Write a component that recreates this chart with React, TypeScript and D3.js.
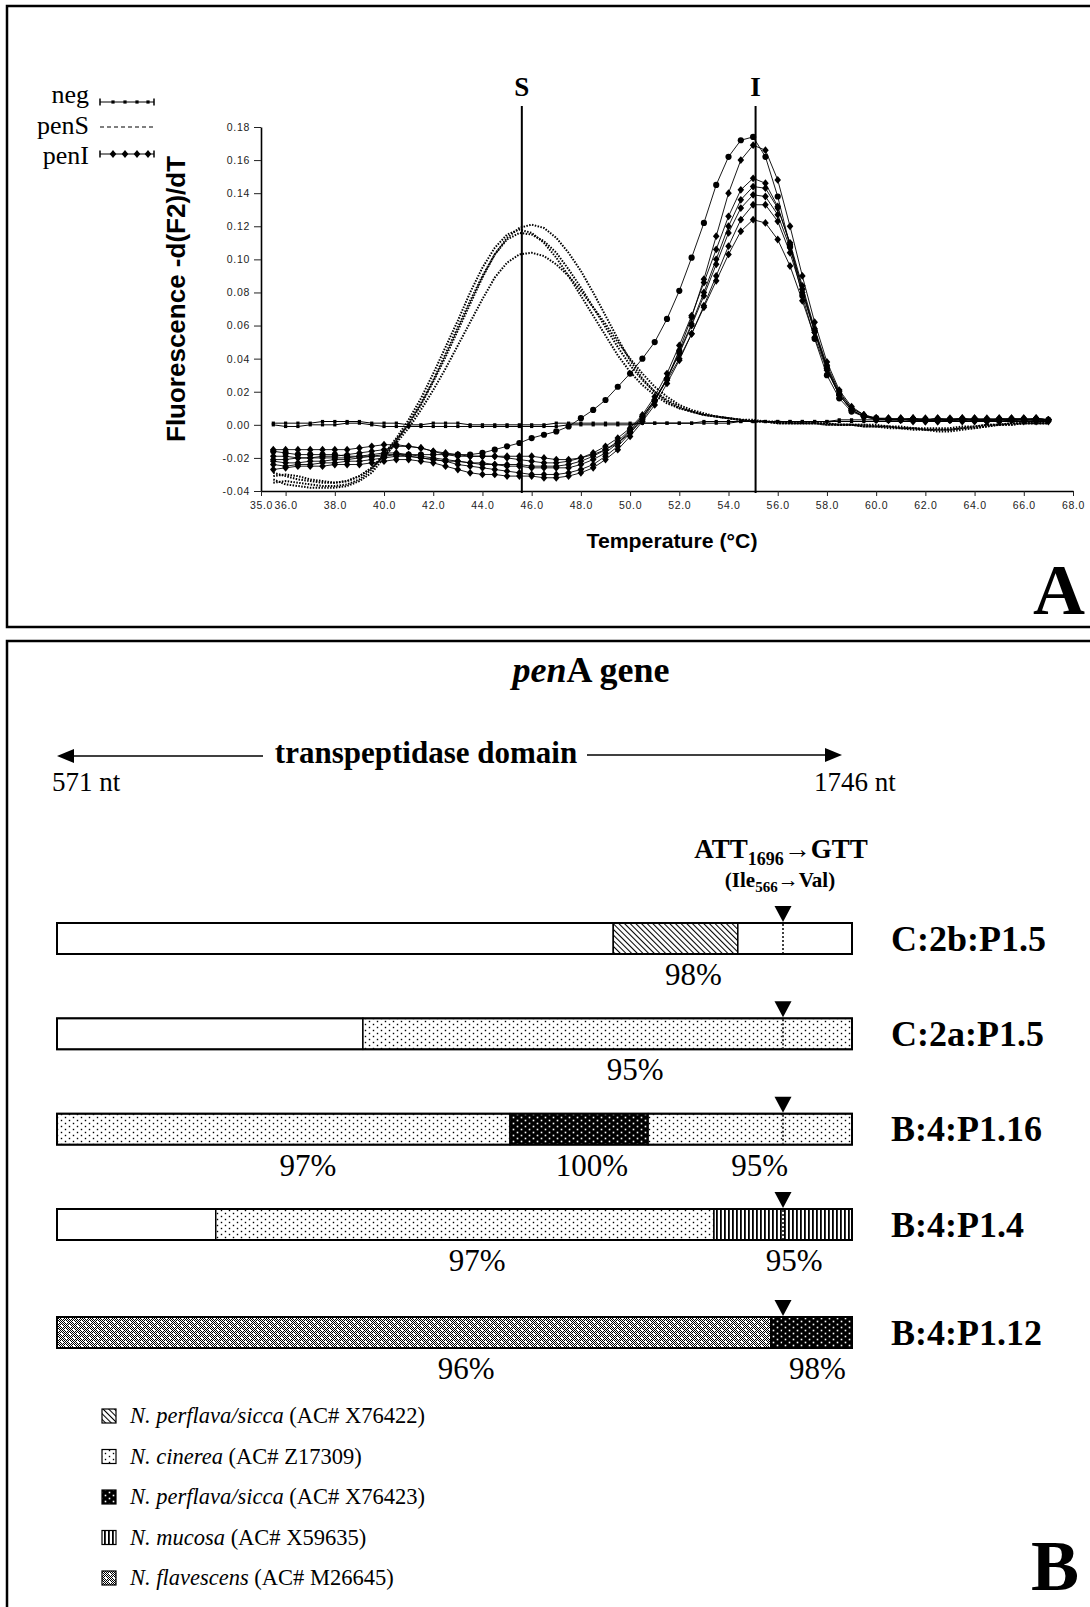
import React, { useRef, useEffect } from 'react';
import * as d3 from 'd3';

// ---------- panel A : melting curves ----------
const temps = [
  35.5, 36.0, 36.5, 37.0, 37.5, 38.0, 38.5, 39.0,
  39.5, 40.0, 40.5, 41.0, 41.5, 42.0, 42.5, 43.0,
  43.5, 44.0, 44.5, 45.0, 45.5, 46.0, 46.5, 47.0,
  47.5, 48.0, 48.5, 49.0, 49.5, 50.0, 50.5, 51.0,
  51.5, 52.0, 52.5, 53.0, 53.5, 54.0, 54.5, 55.0,
  55.5, 56.0, 56.5, 57.0, 57.5, 58.0, 58.5, 59.0,
  59.5, 60.0, 60.5, 61.0, 61.5, 62.0, 62.5, 63.0,
  63.5, 64.0, 64.5, 65.0, 65.5, 66.0, 66.5, 67.0,
];

const negCurves = [
  [0.001, 0.001, 0.001, 0.001, 0.002, 0.002, 0.002, 0.002,
   0.001, 0.001, 0.001, 0.000, 0.000, 0.001, 0.001, 0.001,
   0.000, 0.000, 0.000, 0.000, 0.000, 0.000, 0.000, 0.001,
   0.001, 0.001, 0.001, 0.001, 0.001, 0.001, 0.001, 0.001,
   0.001, 0.001, 0.001, 0.002, 0.002, 0.002, 0.002, 0.002,
   0.002, 0.002, 0.002, 0.002, 0.002, 0.002, 0.002, 0.002,
   0.002, 0.002, 0.002, 0.002, 0.002, 0.002, 0.002, 0.002,
   0.002, 0.002, 0.002, 0.002, 0.002, 0.002, 0.002, 0.002],
  [0.000, -0.001, -0.001, 0.000, 0.000, 0.000, 0.001, 0.001,
   0.000, -0.001, -0.001, -0.001, -0.001, -0.001, -0.001, -0.001,
   -0.001, -0.001, -0.001, -0.001, -0.001, -0.001, -0.001, -0.001,
   0.000, 0.000, 0.000, 0.000, 0.000, 0.000, 0.001, 0.001,
   0.001, 0.001, 0.001, 0.001, 0.001, 0.001, 0.002, 0.002,
   0.002, 0.002, 0.002, 0.002, 0.002, 0.002, 0.003, 0.003,
   0.003, 0.003, 0.003, 0.003, 0.003, 0.003, 0.003, 0.003,
   0.003, 0.003, 0.003, 0.003, 0.003, 0.003, 0.003, 0.003],
];

const penSCurves = [
  [-0.031, -0.030, -0.031, -0.033, -0.034, -0.035, -0.034, -0.031,
   -0.026, -0.018, -0.009, 0.000, 0.012, 0.026, 0.041, 0.057,
   0.073, 0.089, 0.103, 0.113, 0.119, 0.121, 0.119, 0.113,
   0.104, 0.093, 0.080, 0.066, 0.052, 0.039, 0.028, 0.020,
   0.014, 0.010, 0.008, 0.006, 0.005, 0.004, 0.003, 0.002,
   0.002, 0.001, 0.001, 0.001, 0.001, 0.000, 0.000, 0.000,
   -0.001, -0.001, -0.001, -0.002, -0.002, -0.003, -0.003, -0.003,
   -0.002, -0.001, 0.000, 0.000, 0.001, 0.001, 0.001, 0.001],
  [-0.035, -0.034, -0.035, -0.036, -0.037, -0.037, -0.036, -0.033,
   -0.027, -0.018, -0.008, 0.003, 0.016, 0.031, 0.047, 0.063,
   0.080, 0.095, 0.107, 0.115, 0.118, 0.116, 0.110, 0.101,
   0.090, 0.078, 0.066, 0.054, 0.042, 0.032, 0.024, 0.018,
   0.013, 0.010, 0.008, 0.006, 0.005, 0.004, 0.003, 0.002,
   0.002, 0.001, 0.001, 0.001, 0.001, 0.001, 0.000, 0.000,
   0.000, 0.000, -0.001, -0.001, -0.002, -0.002, -0.002, -0.002,
   -0.001, -0.001, 0.000, 0.000, 0.001, 0.001, 0.001, 0.001],
  [-0.033, -0.036, -0.037, -0.038, -0.038, -0.038, -0.037, -0.034,
   -0.029, -0.020, -0.010, 0.001, 0.013, 0.027, 0.043, 0.059,
   0.075, 0.090, 0.103, 0.112, 0.116, 0.115, 0.111, 0.104,
   0.094, 0.083, 0.071, 0.059, 0.047, 0.036, 0.027, 0.020,
   0.015, 0.011, 0.008, 0.006, 0.005, 0.004, 0.003, 0.003,
   0.002, 0.002, 0.001, 0.001, 0.001, 0.001, 0.000, 0.000,
   0.000, -0.001, -0.001, -0.002, -0.002, -0.003, -0.003, -0.003,
   -0.002, -0.002, -0.001, 0.000, 0.000, 0.001, 0.001, 0.001],
  [-0.029, -0.031, -0.033, -0.034, -0.035, -0.035, -0.034, -0.031,
   -0.026, -0.019, -0.011, -0.002, 0.009, 0.021, 0.034, 0.048,
   0.062, 0.076, 0.089, 0.098, 0.103, 0.104, 0.102, 0.097,
   0.090, 0.081, 0.071, 0.061, 0.050, 0.040, 0.031, 0.023,
   0.017, 0.012, 0.009, 0.007, 0.005, 0.004, 0.003, 0.002,
   0.002, 0.001, 0.001, 0.001, 0.001, 0.000, 0.000, 0.000,
   -0.001, -0.001, -0.002, -0.002, -0.003, -0.003, -0.004, -0.004,
   -0.003, -0.002, -0.001, 0.000, 0.000, 0.001, 0.001, 0.001],
];

// the early rising penI sample (round markers)
const penIRound = [
  -0.016, -0.017, -0.018, -0.018, -0.018, -0.018, -0.019, -0.019,
  -0.019, -0.019, -0.018, -0.018, -0.018, -0.018, -0.018, -0.018,
  -0.018, -0.017, -0.015, -0.013, -0.011, -0.008, -0.006, -0.004,
  -0.001, 0.004, 0.009, 0.015, 0.023, 0.031, 0.040, 0.050,
  0.064, 0.081, 0.101, 0.122, 0.145, 0.162, 0.172, 0.174,
  0.162, 0.138, 0.108, 0.078, 0.052, 0.030, 0.016, 0.008,
  0.005, 0.004, 0.003, 0.003, 0.003, 0.003, 0.003, 0.003,
  0.003, 0.003, 0.003, 0.003, 0.003, 0.003, 0.003, 0.003,
];

const penICurves = [
  [-0.021, -0.021, -0.020, -0.020, -0.019, -0.019, -0.018, -0.017,
   -0.016, -0.015, -0.013, -0.013, -0.014, -0.016, -0.018, -0.019,
   -0.019, -0.019, -0.019, -0.019, -0.019, -0.019, -0.020, -0.021,
   -0.021, -0.020, -0.018, -0.015, -0.011, -0.005, 0.003, 0.014,
   0.028, 0.045, 0.065, 0.088, 0.114, 0.140, 0.160, 0.169,
   0.166, 0.148, 0.120, 0.090, 0.062, 0.038, 0.021, 0.011,
   0.006, 0.004, 0.004, 0.003, 0.004, 0.003, 0.004, 0.003,
   0.004, 0.003, 0.004, 0.003, 0.004, 0.003, 0.004, 0.003],
  [-0.015, -0.015, -0.015, -0.015, -0.015, -0.015, -0.015, -0.014,
   -0.013, -0.012, -0.012, -0.013, -0.014, -0.016, -0.017, -0.018,
   -0.019, -0.019, -0.019, -0.020, -0.021, -0.022, -0.023, -0.023,
   -0.022, -0.020, -0.017, -0.013, -0.008, -0.002, 0.006, 0.017,
   0.031, 0.048, 0.066, 0.086, 0.106, 0.126, 0.142, 0.149,
   0.146, 0.132, 0.109, 0.082, 0.056, 0.034, 0.018, 0.009,
   0.005, 0.004, 0.003, 0.004, 0.002, 0.003, 0.004, 0.003,
   0.002, 0.004, 0.003, 0.002, 0.003, 0.004, 0.002, 0.003],
  [-0.024, -0.025, -0.024, -0.024, -0.023, -0.023, -0.022, -0.022,
   -0.021, -0.020, -0.019, -0.019, -0.020, -0.021, -0.022, -0.024,
   -0.025, -0.026, -0.027, -0.028, -0.029, -0.030, -0.030, -0.030,
   -0.029, -0.027, -0.024, -0.019, -0.013, -0.005, 0.004, 0.015,
   0.028, 0.044, 0.061, 0.080, 0.100, 0.120, 0.136, 0.144,
   0.143, 0.131, 0.110, 0.084, 0.058, 0.036, 0.020, 0.010,
   0.006, 0.004, 0.003, 0.003, 0.004, 0.002, 0.003, 0.003,
   0.004, 0.002, 0.003, 0.004, 0.003, 0.002, 0.004, 0.003],
  [-0.019, -0.019, -0.020, -0.020, -0.020, -0.020, -0.020, -0.019,
   -0.018, -0.017, -0.017, -0.018, -0.019, -0.020, -0.021, -0.022,
   -0.023, -0.024, -0.024, -0.025, -0.025, -0.026, -0.026, -0.026,
   -0.026, -0.024, -0.021, -0.017, -0.011, -0.004, 0.005, 0.015,
   0.028, 0.043, 0.060, 0.078, 0.097, 0.116, 0.131, 0.139,
   0.138, 0.127, 0.107, 0.082, 0.057, 0.035, 0.019, 0.010,
   0.006, 0.003, 0.004, 0.003, 0.003, 0.004, 0.002, 0.003,
   0.003, 0.004, 0.002, 0.003, 0.004, 0.003, 0.003, 0.002],
  [-0.027, -0.026, -0.025, -0.025, -0.025, -0.024, -0.024, -0.024,
   -0.023, -0.022, -0.021, -0.021, -0.022, -0.023, -0.025, -0.027,
   -0.029, -0.030, -0.030, -0.031, -0.031, -0.031, -0.032, -0.032,
   -0.031, -0.029, -0.026, -0.021, -0.015, -0.007, 0.002, 0.012,
   0.025, 0.039, 0.055, 0.072, 0.090, 0.108, 0.124, 0.133,
   0.133, 0.123, 0.104, 0.080, 0.056, 0.034, 0.018, 0.009,
   0.005, 0.003, 0.003, 0.004, 0.003, 0.002, 0.003, 0.004,
   0.003, 0.003, 0.002, 0.004, 0.003, 0.003, 0.004, 0.003],
  [-0.022, -0.023, -0.023, -0.022, -0.022, -0.021, -0.021, -0.020,
   -0.019, -0.018, -0.018, -0.019, -0.020, -0.021, -0.022, -0.022,
   -0.023, -0.023, -0.024, -0.024, -0.024, -0.025, -0.025, -0.025,
   -0.024, -0.022, -0.019, -0.015, -0.010, -0.003, 0.005, 0.015,
   0.027, 0.040, 0.055, 0.071, 0.087, 0.103, 0.117, 0.124,
   0.122, 0.112, 0.096, 0.075, 0.053, 0.033, 0.018, 0.009,
   0.005, 0.004, 0.003, 0.003, 0.004, 0.003, 0.002, 0.003,
   0.004, 0.003, 0.003, 0.002, 0.003, 0.004, 0.003, 0.003],
];

const yTicks = [-0.04, -0.02, 0, 0.02, 0.04, 0.06, 0.08, 0.1, 0.12, 0.14, 0.16, 0.18];
const xTicks = [35, 36, 38, 40, 42, 44, 46, 48, 50, 52, 54, 56, 58, 60, 62, 64, 66, 68];
const peakLabels = ['S', 'I'];
const peakTemps = [45.6, 55.1];
const legendA = ['neg', 'penS', 'penI'];

// ---------- panel B : penA mosaic ----------
const mutationNt = 1696;
const strains = ['C:2b:P1.5', 'C:2a:P1.5', 'B:4:P1.16', 'B:4:P1.4', 'B:4:P1.12'];
const segments = [
  [{ from: 571, to: 1433, donor: '' }, { from: 1433, to: 1626, donor: 'X76422' }, { from: 1626, to: 1746, donor: '' }],
  [{ from: 571, to: 1045, donor: '' }, { from: 1045, to: 1746, donor: 'Z17309' }],
  [{ from: 571, to: 1273, donor: 'Z17309' }, { from: 1273, to: 1487, donor: 'X76423' }, { from: 1487, to: 1746, donor: 'Z17309' }],
  [{ from: 571, to: 817, donor: '' }, { from: 817, to: 1589, donor: 'Z17309' }, { from: 1589, to: 1746, donor: 'X59635' }],
  [{ from: 571, to: 1677, donor: 'M26645' }, { from: 1677, to: 1746, donor: 'X76423' }],
];
const identities = [
  [{ at: 1557, text: '98%' }],
  [{ at: 1467, text: '95%' }],
  [{ at: 960, text: '97%' }, { at: 1400, text: '100%' }, { at: 1660, text: '95%' }],
  [{ at: 1222, text: '97%' }, { at: 1704, text: '95%' }],
  [{ at: 1205, text: '96%' }, { at: 1721, text: '98%' }],
];
const donorAcc = ['X76422', 'Z17309', 'X76423', 'X59635', 'M26645'];
const donorSpecies = ['N. perflava/sicca', 'N. cinerea', 'N. perflava/sicca', 'N. mucosa', 'N. flavescens'];

const SERIF = 'Liberation Serif, Times New Roman, serif';
const SANS = 'Liberation Sans, Arial, sans-serif';

const App = () => {
  const ref = useRef<SVGSVGElement>(null);

  useEffect(() => {
    const svg = d3.select(ref.current);
    svg.selectAll('*').remove();

    // patterns
    const defs = svg.append('defs');
    const hatch = defs.append('pattern').attr('id', 'pat-X76422').attr('patternUnits', 'userSpaceOnUse')
      .attr('width', 4).attr('height', 4).attr('patternTransform', 'rotate(-45)');
    hatch.append('rect').attr('width', 4).attr('height', 4).attr('fill', '#fff');
    hatch.append('line').attr('x1', 0.5).attr('y1', 0).attr('x2', 0.5).attr('y2', 4).attr('stroke', '#000').attr('stroke-width', 1.1);

    const cin = defs.append('pattern').attr('id', 'pat-Z17309').attr('patternUnits', 'userSpaceOnUse')
      .attr('width', 8).attr('height', 6);
    cin.append('rect').attr('width', 8).attr('height', 6).attr('fill', '#fff');
    [[1.5, 1.5], [5.5, 4.5]].forEach(([cx, cy]) => cin.append('rect').attr('x', cx - 0.7).attr('y', cy - 0.7).attr('width', 1.4).attr('height', 1.4).attr('fill', '#000'));

    const blk = defs.append('pattern').attr('id', 'pat-X76423').attr('patternUnits', 'userSpaceOnUse')
      .attr('width', 8).attr('height', 6);
    blk.append('rect').attr('width', 8).attr('height', 6).attr('fill', '#000');
    [[1.5, 1.5], [5.5, 4.5]].forEach(([cx, cy]) => blk.append('rect').attr('x', cx - 0.8).attr('y', cy - 0.8).attr('width', 1.6).attr('height', 1.6).attr('fill', '#fff'));

    const stripes = defs.append('pattern').attr('id', 'pat-X59635').attr('patternUnits', 'userSpaceOnUse')
      .attr('width', 4).attr('height', 4);
    stripes.append('rect').attr('width', 4).attr('height', 4).attr('fill', '#fff');
    stripes.append('rect').attr('x', 0).attr('width', 1.8).attr('height', 4).attr('fill', '#000');

    const checker = defs.append('pattern').attr('id', 'pat-M26645').attr('patternUnits', 'userSpaceOnUse')
      .attr('width', 8).attr('height', 8);
    checker.append('rect').attr('width', 8).attr('height', 8).attr('fill', '#fff');
    d3.range(8).forEach(r => d3.range(8).forEach(c => {
      if ((r + c) % 2 === 0) checker.append('rect').attr('x', c).attr('y', r).attr('width', 1).attr('height', 1).attr('fill', '#000');
    }));
    checker.append('rect').attr('x', 1).attr('y', 1).attr('width', 2).attr('height', 2).attr('fill', '#fff');
    checker.append('rect').attr('x', 5).attr('y', 5).attr('width', 2).attr('height', 2).attr('fill', '#fff');

    // frames
    svg.append('rect').attr('x', 7).attr('y', 6).attr('width', 1100).attr('height', 621)
      .attr('fill', 'none').attr('stroke', '#000').attr('stroke-width', 2.5);
    svg.append('rect').attr('x', 7).attr('y', 641).attr('width', 1100).attr('height', 1000)
      .attr('fill', 'none').attr('stroke', '#000').attr('stroke-width', 2.5);

    // ===== panel A =====
    const x = d3.scaleLinear().domain([35, 68]).range([261, 1073]);
    const y = d3.scaleLinear().domain([-0.04, 0.18]).range([491, 127]);
    const line = d3.line<number>().x((_, i) => x(temps[i])).y(d => y(d));
    const gA = svg.append('g');

    const yAxis = gA.append('g').attr('transform', `translate(${x(35)},0)`)
      .call(d3.axisLeft(y).tickValues(yTicks).tickFormat(d => (+d).toFixed(2)).tickSize(7).tickPadding(4).tickSizeOuter(0));
    const xAxis = gA.append('g').attr('transform', `translate(0,${y(-0.04)})`)
      .call(d3.axisBottom(x).tickValues(xTicks).tickFormat(d => (+d).toFixed(1)).tickSize(5).tickPadding(6).tickSizeOuter(0));
    [yAxis, xAxis].forEach(a => {
      a.select('.domain').attr('stroke', '#000').attr('stroke-width', 1.6);
      a.selectAll('.tick line').attr('stroke', '#222').attr('stroke-width', 1);
      a.selectAll('.tick text').attr('font-family', SANS).attr('font-size', 10.5)
        .attr('letter-spacing', 0.7).attr('fill', '#222');
    });

    gA.append('text').attr('transform', 'translate(185,442) rotate(-90)')
      .attr('text-anchor', 'start').attr('font-family', SANS).attr('font-weight', 'bold')
      .attr('font-size', 26).text('Fluorescence -d(F2)/dT');
    gA.append('text').attr('x', 672).attr('y', 548)
      .attr('text-anchor', 'middle').attr('font-family', SANS).attr('font-weight', 'bold')
      .attr('font-size', 21).attr('textLength', 171).attr('lengthAdjust', 'spacingAndGlyphs')
      .text('Temperature (°C)');

    // curves
    const curves = gA.append('g');
    penSCurves.forEach(c => {
      curves.append('path').attr('d', line(c)).attr('fill', 'none')
        .attr('stroke', '#000').attr('stroke-width', 2).attr('stroke-dasharray', '1.5,1.4');
    });
    negCurves.forEach(c => {
      curves.append('path').attr('d', line(c)).attr('fill', 'none').attr('stroke', '#000').attr('stroke-width', 1);
      curves.selectAll(null).data(c).join('rect')
        .attr('x', (_, i) => x(temps[i]) - 1.6).attr('y', d => y(d) - 1.6)
        .attr('width', 3.2).attr('height', 3.2).attr('fill', '#000');
    });
    const diamond = 'M0,-3.9L3.3,0L0,3.9L-3.3,0Z';
    penICurves.forEach(c => {
      curves.append('path').attr('d', line(c)).attr('fill', 'none').attr('stroke', '#000').attr('stroke-width', 0.9);
      curves.selectAll(null).data(c).join('path').attr('d', diamond)
        .attr('transform', (d, i) => `translate(${x(temps[i])},${y(d)})`).attr('fill', '#000');
    });
    curves.append('path').attr('d', line(penIRound)).attr('fill', 'none').attr('stroke', '#000').attr('stroke-width', 0.9);
    curves.selectAll(null).data(penIRound).join('circle')
      .attr('cx', (_, i) => x(temps[i])).attr('cy', d => y(d)).attr('r', 3.1).attr('fill', '#000');

    // S / I guide lines
    peakTemps.forEach((t, i) => {
      gA.append('line').attr('x1', x(t)).attr('x2', x(t)).attr('y1', 106).attr('y2', y(-0.04) + 2)
        .attr('stroke', '#000').attr('stroke-width', 2);
      gA.append('text').attr('x', x(t)).attr('y', 96).attr('text-anchor', 'middle')
        .attr('font-family', SERIF).attr('font-weight', 'bold').attr('font-size', 27).text(peakLabels[i]);
    });

    // legend A
    const legRows = [103, 134, 164];
    const legLines = [102, 127, 154];
    legendA.forEach((name, i) => {
      gA.append('text').attr('x', 89).attr('y', legRows[i]).attr('text-anchor', 'end')
        .attr('font-family', SERIF).attr('font-size', 26).text(name);
      const ly = legLines[i];
      if (name === 'penS') {
        gA.append('line').attr('x1', 100).attr('x2', 154).attr('y1', ly).attr('y2', ly)
          .attr('stroke', '#000').attr('stroke-width', 1.2).attr('stroke-dasharray', '4,3');
        return;
      }
      gA.append('line').attr('x1', 100).attr('x2', 154).attr('y1', ly).attr('y2', ly).attr('stroke', '#000').attr('stroke-width', 1.2);
      [100, 154].forEach(ex => gA.append('line').attr('x1', ex).attr('x2', ex).attr('y1', ly - 3.5).attr('y2', ly + 3.5)
        .attr('stroke', '#000').attr('stroke-width', 1.5));
      [113, 125, 137, 148].forEach(mx => {
        if (name === 'neg') {
          gA.append('rect').attr('x', mx - 1.6).attr('y', ly - 1.6).attr('width', 3.2).attr('height', 3.2).attr('fill', '#000');
        } else {
          gA.append('path').attr('d', diamond).attr('transform', `translate(${mx},${ly})`).attr('fill', '#000');
        }
      });
    });

    gA.append('text').attr('x', 1033).attr('y', 614).attr('font-family', SERIF)
      .attr('font-weight', 'bold').attr('font-size', 72).text('A');

    // ===== panel B =====
    const gB = svg.append('g');
    const nt = d3.scaleLinear().domain([571, mutationNt, 1746]).range([57, 783, 852]);
    const rowTop = d3.scaleLinear().domain([0, 3, 4]).range([923, 1209, 1317]);
    const barH = 31;

    const title = gB.append('text').attr('x', 591).attr('y', 682).attr('text-anchor', 'middle')
      .attr('font-family', SERIF).attr('font-weight', 'bold').attr('font-size', 36);
    title.append('tspan').attr('font-style', 'italic').text('pen');
    title.append('tspan').text('A gene');

    // transpeptidase domain arrow
    gB.append('line').attr('x1', 70).attr('x2', 263).attr('y1', 756).attr('y2', 756).attr('stroke', '#000').attr('stroke-width', 1.5);
    gB.append('path').attr('d', 'M57,756L74,749L74,763Z').attr('fill', '#000');
    gB.append('line').attr('x1', 587).attr('x2', 830).attr('y1', 755).attr('y2', 755).attr('stroke', '#000').attr('stroke-width', 1.5);
    gB.append('path').attr('d', 'M842,755L825,748L825,762Z').attr('fill', '#000');
    gB.append('text').attr('x', 426).attr('y', 763).attr('text-anchor', 'middle')
      .attr('font-family', SERIF).attr('font-weight', 'bold').attr('font-size', 31).text('transpeptidase domain');
    gB.append('text').attr('x', 52).attr('y', 791).attr('font-family', SERIF).attr('font-size', 27).text('571 nt');
    gB.append('text').attr('x', 814).attr('y', 791).attr('font-family', SERIF).attr('font-size', 27).text('1746 nt');

    // mutation annotation
    const mx = nt(mutationNt);
    const mut = gB.append('text').attr('x', mx - 2).attr('y', 858).attr('text-anchor', 'middle')
      .attr('font-family', SERIF).attr('font-weight', 'bold').attr('font-size', 27);
    mut.append('tspan').text('ATT');
    mut.append('tspan').attr('font-size', 18).attr('dy', 7).text('1696');
    mut.append('tspan').attr('dy', -7).text('→GTT');
    const aa = gB.append('text').attr('x', mx - 3).attr('y', 887).attr('text-anchor', 'middle')
      .attr('font-family', SERIF).attr('font-weight', 'bold').attr('font-size', 21);
    aa.append('tspan').text('(Ile');
    aa.append('tspan').attr('font-size', 15).attr('dy', 5).text('566');
    aa.append('tspan').attr('dy', -5).text('→Val)');

    strains.forEach((s, i) => {
      const top = rowTop(i);
      segments[i].forEach(seg => {
        gB.append('rect').attr('x', nt(seg.from)).attr('y', top)
          .attr('width', nt(seg.to) - nt(seg.from)).attr('height', barH)
          .attr('fill', seg.donor ? `url(#pat-${seg.donor})` : '#fff')
          .attr('stroke', '#000').attr('stroke-width', 1.5);
      });
      gB.append('rect').attr('x', nt(571)).attr('y', top).attr('width', nt(1746) - nt(571)).attr('height', barH)
        .attr('fill', 'none').attr('stroke', '#000').attr('stroke-width', 2);
      gB.append('line').attr('x1', mx).attr('x2', mx).attr('y1', top + 1).attr('y2', top + barH - 1)
        .attr('stroke', '#000').attr('stroke-width', 1.5).attr('stroke-dasharray', '2,2');
      gB.append('path').attr('d', `M${mx - 8.5},${top - 17}L${mx + 8.5},${top - 17}L${mx},${top - 1}Z`).attr('fill', '#000');
      gB.append('text').attr('x', 891).attr('y', top + barH / 2 + 12).attr('font-family', SERIF)
        .attr('font-weight', 'bold').attr('font-size', 36).text(s);
      identities[i].forEach(id => {
        gB.append('text').attr('x', nt(id.at)).attr('y', top + barH + 31).attr('text-anchor', 'middle')
          .attr('font-family', SERIF).attr('font-size', 31).text(id.text);
      });
    });

    // legend B
    const legY = d3.scaleLinear().domain([0, 4]).range([1416, 1578]);
    donorAcc.forEach((acc, i) => {
      const cy = legY(i);
      gB.append('rect').attr('x', 102).attr('y', cy - 7).attr('width', 14).attr('height', 14)
        .attr('fill', `url(#pat-${acc})`).attr('stroke', '#000').attr('stroke-width', 1.2);
      const t = gB.append('text').attr('x', 130).attr('y', cy + 7).attr('font-family', SERIF).attr('font-size', 22.5);
      t.append('tspan').attr('font-style', 'italic').text(donorSpecies[i]);
      t.append('tspan').text(` (AC# ${acc})`);
    });

    gB.append('text').attr('x', 1031).attr('y', 1590).attr('font-family', SERIF)
      .attr('font-weight', 'bold').attr('font-size', 72).text('B');
  }, []);

  return (
    <div style={{ position: 'absolute', left: 0, top: 0 }}>
      <svg ref={ref} width={1090} height={1607} style={{ display: 'block', background: '#fff' }} />
    </div>
  );
};

export default App;
